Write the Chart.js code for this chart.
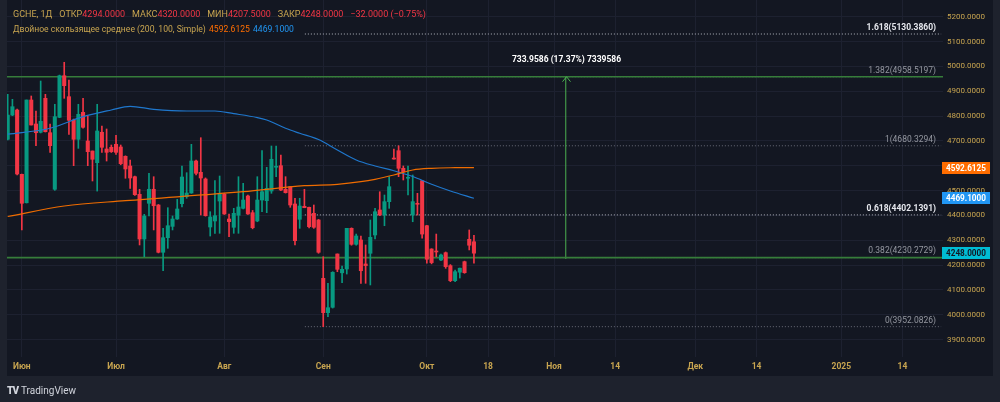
<!DOCTYPE html>
<html>
<head>
<meta charset="utf-8">
<script src="https://cdn.jsdelivr.net/npm/chart.js@4.4.1/dist/chart.umd.min.js"></script>
<style>
  html, body { margin: 0; padding: 0; background: #1e222d; }
  #wrap { position: relative; width: 1000px; height: 402px; overflow: hidden; }
  #chart { position: absolute; left: 0; top: 0; }
  .legend { position: absolute; left: 13px; font-family: Roboto, sans-serif; font-size: 8.6px; color: #c8a550; white-space: nowrap; }
  #line1 { font-size: 9px; }
  #line1 span { margin-right: 7px; }
  #line2 span { margin-right: 1px; }
  .red { color: #f23645; }
  .org { color: #ff6d00; }
  .blu { color: #2196f3; }
  #logo { position: absolute; left: 7px; top: 385px; font-family: Roboto, sans-serif; color: #d1d4dc; font-size: 10px; white-space: nowrap; }
  #logo b { font-weight: 900; letter-spacing: -1px; margin-right: 3px; }
</style>
</head>
<body>
<div id="wrap">
  <canvas id="chart" width="1000" height="402"></canvas>
  <div class="legend" id="line1" style="top:9px"></div>
  <div class="legend" id="line2" style="top:24px"></div>
  <div id="logo"><b>TV</b>TradingView</div>
</div>
<script>
// daily candles, GCHE, end of May .. 15 Oct 2024
const opens = [4706.5, 4804, 4824.4, 4565.5, 4451, 4864.7, 4768, 4734.7, 4871.5, 4733,
  4505.2, 4795, 4962.5, 4878, 4784, 4706.5, 4815, 4699.6, 4659.4, 4612.3,
  4734.7, 4667.4, 4674.3, 4686.3, 4675.5, 4638, 4598.9, 4555.9, 4485, 4305.1,
  4448.8, 4505.2, 4442, 4251.6, 4310.3, 4355.9, 4385.6, 4447.2, 4475.5, 4490.3,
  4619.1, 4573.6, 4546.7, 4353.4, 4377.6, 4458, 4486.3, 4385.6, 4352.2, 4400.6,
  4428.6, 4478.2, 4411, 4377.6, 4462, 4459.3, 4498.3, 4594, 4600.2, 4505,
  4515.6, 4446, 4384.4, 4436.6, 4432.5, 4408.5, 4381.6, 4146.8, 4008.4, 4030,
  4244.7, 4169, 4184.3, 4348, 4283.7, 4301, 4204.5, 4247.6, 4321.2, 4421.9,
  4401.7, 4455.4, 4630, 4660.6, 4589.7, 4549.7, 4401.7, 4448.8, 4539.8, 4358.6,
  4264.8, 4256.8, 4220.5, 4250, 4197.8, 4137.2, 4171.4, 4213.7, 4303.8, 4294];
const highs = [4887.6, 4867.5, 4828, 4566.8, 4864.7, 4880.8, 4820.4, 4941.2, 4887.6, 4768,
  4847.4, 4965, 5016.5, 4945, 4788, 4847.4, 4871.5, 4800.3, 4659.4, 4847.4,
  4760, 4748, 4683.5, 4722.6, 4683.5, 4640, 4623, 4558, 4505.2, 4404.5,
  4569.6, 4555.9, 4444, 4348, 4431.1, 4397.7, 4464.9, 4598.9, 4572, 4686.3,
  4623, 4712.9, 4551, 4415, 4539.8, 4558.7, 4489, 4405.8, 4428.6, 4555.9,
  4529.3, 4482, 4420, 4555.9, 4660.6, 4593.7, 4679.5, 4679.5, 4643, 4556,
  4516, 4469, 4469, 4505, 4434, 4442, 4384, 4233.8, 4126.7, 4173.4,
  4245, 4196.4, 4348, 4350, 4325, 4317.2, 4281, 4381.6, 4428.6, 4495.4,
  4482.2, 4556, 4666.8, 4680.3, 4599, 4599, 4562.8, 4489, 4540, 4360,
  4266, 4325, 4244.7, 4252.8, 4202, 4180, 4188, 4216, 4341.5, 4320];
const lows = [4704, 4801.5, 4562.8, 4341.5, 4450, 4764, 4680.7, 4732, 4735.9, 4654,
  4501, 4793.5, 4871.5, 4726.6, 4600.2, 4670, 4750.8, 4600.2, 4538.6, 4498,
  4654, 4619, 4653.5, 4646, 4604, 4549.5, 4509, 4481, 4281, 4233.8,
  4397.7, 4341.5, 4249, 4177.6, 4267.6, 4341.5, 4384, 4433.9, 4469, 4489,
  4562.8, 4401.7, 4397, 4317, 4328, 4328, 4404, 4314.3, 4328, 4328,
  4426, 4404, 4346, 4374.6, 4415, 4411, 4489, 4556, 4500, 4490,
  4432.6, 4281, 4348, 4431, 4350, 4348, 4247.6, 3952.1, 3992.3, 4027,
  4173.4, 4129, 4164, 4280, 4280, 4126.7, 4126.7, 4120, 4305, 4399,
  4358.6, 4428.6, 4626, 4556, 4542.6, 4482.2, 4374.6, 4401.7, 4308, 4207.5,
  4205, 4233.8, 4218, 4187, 4133.2, 4133.2, 4148, 4167, 4261, 4207.5];
const closes = [4804, 4837.7, 4566.8, 4448.8, 4864.7, 4764, 4733, 4779, 4737, 4680.7,
  4797.5, 4962.5, 4922.3, 4783, 4706.5, 4807, 4754.8, 4656.6, 4626, 4739.9,
  4674.3, 4654, 4656.6, 4654, 4608.3, 4587, 4550.7, 4483.4, 4305.1, 4397.7,
  4505.2, 4439, 4251.6, 4310.3, 4358.6, 4385.6, 4425.9, 4554.7, 4490.3, 4619.1,
  4569.6, 4550.7, 4398.9, 4393.7, 4398.9, 4489, 4405.8, 4374.9, 4408.5, 4434,
  4462, 4405.8, 4350.6, 4462, 4495.4, 4509, 4626, 4598, 4502.3, 4491.5,
  4442, 4298.3, 4437.9, 4431, 4354.7, 4352.2, 4251.6, 4008.4, 4028.5, 4171,
  4183, 4183, 4348, 4283.7, 4317.2, 4177.4, 4198, 4311.8, 4415, 4401.7,
  4455.4, 4515.7, 4627, 4589.7, 4576, 4553.5, 4455.4, 4444.8, 4325, 4223.6,
  4210, 4252.8, 4240.7, 4193.8, 4137.2, 4173.4, 4187.5, 4169.4, 4280, 4248];

// moving averages read at some bars
const ma200Idx = [0, 12, 25, 50, 63, 70, 75, 78, 82, 86, 90, 95, 99];
const ma200 = [4395.7, 4437.9, 4459.3, 4495.5, 4519.7, 4525.3, 4535.8, 4545.4, 4562.8, 4582.9, 4589.7, 4592.1, 4592.6125];
const ma100Idx = [0, 9, 16, 22, 26, 31, 38, 44, 48, 53, 55, 59, 62, 66, 70, 74, 78, 82, 86, 90, 94, 99];
const ma100 = [4727, 4750.8, 4797.5, 4824.4, 4839.3, 4827.3, 4820.4, 4820.4, 4809.6, 4794, 4784, 4750.8, 4730.7, 4705.7, 4663.4, 4623.1, 4599, 4580, 4556.7, 4525.3, 4498.3, 4469.1];

// time axis (bar slots; future part in calendar days)
const xTickIdx = [3, 23, 46, 67, 89, 102, 116, 129, 146, 159, 177, 190];
const xTickLabels = ['Июн', 'Июл', 'Авг', 'Сен', 'Окт', '18', 'Ноя', '14', 'Дек', '14', '2025', '14'];
const priceTicks = [3900, 4000, 4100, 4200, 4300, 4400, 4500, 4600, 4700, 4800, 4900, 5000, 5100, 5200];

// fibonacci + drawings
const fibLevels = [1.618, 1.382, 1, 0.618, 0.382, 0];
const fibPrices = [5130.3860, 4958.5197, 4680.3294, 4402.1391, 4230.2729, 3952.0826];
const fibBright = [true, false, false, true, false, false];
const fibStart = 63.1;
const greenLevels = [4958.5197, 4230.2729];
const measureBar = 118.5;
const measureFrom = 4224.5611;
const measureTo = 4958.5197;

const X_MIN = -0.15, X_MAX = 198.6;
const UP = '#089981', DOWN = '#f23645';
const GOLD = '#c8a550';

const idx = closes.map((_, i) => i);
const isUp = idx.map(i => closes[i] >= opens[i]);
const candleColors = isUp.map(u => u ? UP : DOWN);

// header legend
const last = closes.length - 1;
const prevClose = closes[last - 1];
const chg = closes[last] - prevClose;
const f4 = v => v.toFixed(4);
const sgn = v => (v < 0 ? '\u2212' : '+') + Math.abs(v).toFixed(4);
const red = v => `<i class="red" style="font-style:normal">${v}</i>`;
document.getElementById('line1').innerHTML =
  `<span>GCHE, 1Д</span><span>ОТКР${red(f4(opens[last]))}</span>` +
  `<span>МАКС${red(f4(highs[last]))}</span>` +
  `<span>МИН${red(f4(lows[last]))}</span>` +
  `<span>ЗАКР${red(f4(closes[last]))}</span>` +
  `<span class="red">${sgn(chg)} (${chg < 0 ? '\u2212' : '+'}${Math.abs(chg / prevClose * 100).toFixed(2)}%)</span>`;
document.getElementById('line2').innerHTML =
  `<span>Двойное скользящее среднее (200, 100, Simple)</span> <span class="org">${f4(ma200[ma200.length - 1])}</span> <span class="blu">${f4(ma100[ma100.length - 1])}</span>`;

const hline = (y, x0, x1) => [{ x: x0, y: y }, { x: x1, y: y }];

const datasets = [];
fibPrices.forEach((p, k) => {
  datasets.push({
    type: 'line', data: hline(p, fibStart, 198.2),
    borderColor: fibBright[k] ? '#b2b5be' : '#6a6d78', borderWidth: 1, borderDash: [1, 2],
    pointRadius: 0, order: 5
  });
});
greenLevels.forEach(p => {
  datasets.push({
    type: 'line', data: hline(p, X_MIN, X_MAX),
    borderColor: '#367d3a', borderWidth: 1.6, pointRadius: 0, order: 4
  });
});
datasets.push({
  type: 'line', data: [{ x: measureBar, y: measureFrom }, { x: measureBar, y: measureTo }],
  borderColor: '#4caf50', borderWidth: 1, pointRadius: 0, order: 4
});
datasets.push({
  type: 'bar', data: idx.map(i => ({ x: i, y: [lows[i], highs[i]] })),
  backgroundColor: candleColors, barThickness: 1, grouped: false, order: 3
});
datasets.push({
  type: 'bar', data: idx.map(i => ({ x: i, y: [opens[i], closes[i]] })),
  backgroundColor: candleColors, barThickness: 3.4, minBarLength: 1, grouped: false, order: 2
});
datasets.push({
  type: 'line', data: ma200Idx.map((v, k) => ({ x: v, y: ma200[k] })),
  borderColor: '#ef6c00', borderWidth: 1.2, pointRadius: 0, cubicInterpolationMode: 'monotone', order: 1
});
datasets.push({
  type: 'line', data: ma100Idx.map((v, k) => ({ x: v, y: ma100[k] })),
  borderColor: '#1f77cc', borderWidth: 1.2, pointRadius: 0, cubicInterpolationMode: 'monotone', order: 1
});

const overlayPlugin = {
  id: 'overlay',
  beforeDraw(chart) {
    const c = chart.ctx;
    c.save();
    c.fillStyle = '#1e222d';
    c.fillRect(0, 0, 1000, 402);
    c.fillStyle = '#131722';
    c.fillRect(7, 0, 986, 376);
    c.restore();
  },
  afterDraw(chart) {
    const c = chart.ctx;
    const xs = chart.scales.x, ys = chart.scales.y;
    c.save();
    // fib labels
    c.textAlign = 'right';
    c.textBaseline = 'bottom';
    fibPrices.forEach((p, k) => {
      c.font = (fibBright[k] ? 'bold ' : '') + '8.5px Roboto';
      c.fillStyle = fibBright[k] ? '#e6e8ee' : '#9598a1';
      c.fillText(`${fibLevels[k]}(${p.toFixed(4)})`, 936, ys.getPixelForValue(p) - 2);
    });
    // measure arrow + text
    const mx = Math.round(xs.getPixelForValue(measureBar)) + 0.5;
    const my = ys.getPixelForValue(measureTo);
    c.strokeStyle = '#4caf50';
    c.lineWidth = 1;
    c.beginPath();
    c.moveTo(mx - 4, my + 5); c.lineTo(mx, my); c.lineTo(mx + 4, my + 5);
    c.stroke();
    const diff = measureTo - measureFrom;
    c.font = 'bold 8.5px Roboto';
    c.fillStyle = '#ffffff';
    c.textAlign = 'center';
    c.textBaseline = 'middle';
    c.fillText(`${diff.toFixed(4)} (${(diff / measureFrom * 100).toFixed(2)}%) ${Math.round(diff * 10000)}`, mx, 60);
    // price badges
    const badges = [
      [ma200[ma200.length - 1], '#ff6d00', '#ffffff'],
      [ma100[ma100.length - 1], '#2196f3', '#ffffff'],
      [closes[last], '#00bcd4', '#131722']
    ];
    c.textAlign = 'left';
    badges.forEach(([v, bg, fg]) => {
      const y = Math.round(ys.getPixelForValue(v));
      c.fillStyle = bg;
      c.fillRect(942, y - 6, 48, 12);
      c.fillStyle = fg;
      c.font = 'bold 8.2px Roboto';
      c.fillText(v.toFixed(4), 946, y + 0.5);
    });
    c.restore();
  }
};

Chart.defaults.font.family = 'Roboto';

const noPad = (scale) => { scale.paddingTop = 0; scale.paddingBottom = 0; scale.paddingLeft = 0; scale.paddingRight = 0; };

new Chart(document.getElementById('chart'), {
  type: 'bar',
  data: { datasets: datasets },
  options: {
    responsive: false,
    animation: false,
    events: [],
    layout: { padding: { left: 7, right: 7, top: 0, bottom: 26 } },
    plugins: { legend: { display: false }, tooltip: { enabled: false } },
    scales: {
      x: {
        type: 'linear', min: X_MIN, max: X_MAX, offset: false, bounds: 'data',
        grid: { color: '#1d2130', offset: false, drawTicks: false },
        border: { display: false },
        afterBuildTicks: (scale) => { scale.ticks = xTickIdx.map(v => ({ value: v })); },
        afterFit: (scale) => { scale.height = 19; noPad(scale); },
        ticks: {
          autoSkip: false, maxRotation: 0, padding: 5, color: GOLD,
          font: { size: 8.5, weight: 'bold' },
          callback: (v, i) => xTickLabels[i]
        }
      },
      y: {
        type: 'linear', position: 'right', min: 3830, max: 5267.3, bounds: 'data',
        grid: { color: '#1d2130', drawTicks: false },
        border: { display: false },
        afterBuildTicks: (scale) => { scale.ticks = priceTicks.map(v => ({ value: v })); },
        afterFit: (scale) => { scale.width = 50; noPad(scale); },
        ticks: {
          padding: 4, color: GOLD, font: { size: 8 },
          callback: (v) => v.toFixed(4)
        }
      }
    }
  },
  plugins: [overlayPlugin]
});
</script>
</body>
</html>
